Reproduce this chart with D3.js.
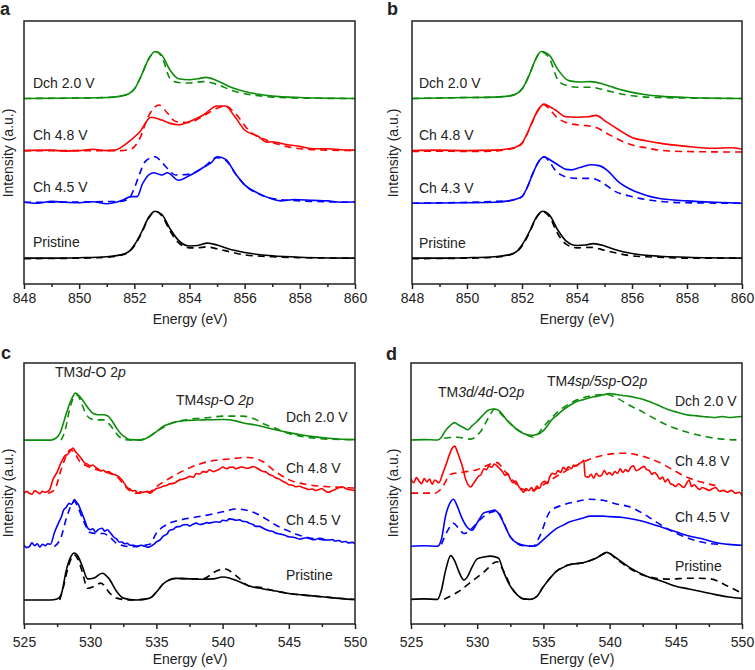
<!DOCTYPE html>
<html><head><meta charset="utf-8">
<script src="https://cdn.jsdelivr.net/npm/d3@7"></script>
<style>body{margin:0;background:#fff}text{font-family:"Liberation Sans",Arial,Helvetica,sans-serif;fill:#222}</style>
</head><body><svg id="chart" width="755" height="670"></svg>
<script>
// ---------- tick labels ----------
const ticksNi = [848, 850, 852, 854, 856, 858, 860];
const ticksO = [525, 530, 535, 540, 545, 550];
const colors = ["#000000", "#0000ff", "#ff0000", "#0c8c0c"];
const labelsA = ["Pristine", "Ch 4.5 V", "Ch 4.8 V", "Dch 2.0 V"];
const labelsB = ["Pristine", "Ch 4.3 V", "Ch 4.8 V", "Dch 2.0 V"];
const labelsC = ["Pristine", "Ch 4.5 V", "Ch 4.8 V", "Dch 2.0 V"];
const labelsD = ["Pristine", "Ch 4.5 V", "Ch 4.8 V", "Dch 2.0 V"];
const offsetsA = [0, 1.19, 2.29, 3.40];
const offsetsB = [0, 1.17, 2.29, 3.40];
const offsetsC = [0, 1.135, 2.27, 3.40];
const offsetsD = [0, 1.13, 2.26, 3.39];

// ---------- panel a ----------
const aBlackSolid = [[848,0],[849,0],[850,0.01],[851,0.03],[851.5,0.07],[851.8,0.14],[852.0,0.28],[852.3,0.6],[852.5,0.85],[852.75,1.0],[853.0,0.93],[853.3,0.62],[853.6,0.38],[854.0,0.26],[854.3,0.27],[854.65,0.32],[855.0,0.28],[855.4,0.2],[856,0.12],[857,0.05],[858,0.02],[860,0]];
const aBlackDash = [[848,-0.01],[850,0],[851,0.02],[851.5,0.06],[851.8,0.13],[852.0,0.26],[852.3,0.58],[852.5,0.84],[852.8,0.99],[853.0,0.9],[853.3,0.57],[853.6,0.33],[854.0,0.22],[854.3,0.22],[854.6,0.24],[855.0,0.2],[855.5,0.13],[856,0.07],[857,0.03],[858,0.01],[860,0]];
const aBlueSolid = [[848,0],[848.5,-0.02],[849,0.02],[849.5,0],[850,-0.01],[850.5,0.01],[851,-0.03],[851.5,0.03],[851.9,0.12],[852.1,0.12],[852.3,0.4],[852.7,0.63],[853.0,0.58],[853.2,0.63],[853.6,0.47],[854.0,0.57],[854.5,0.74],[854.8,0.85],[855.0,0.97],[855.3,0.92],[855.7,0.58],[856.0,0.37],[856.5,0.19],[857.0,0.07],[857.3,0.03],[857.8,0.06],[858.5,0.04],[859,0.03],[859.5,0],[860,0.01]];
const aBlueDash = [[848,0],[851.5,0.02],[851.8,0.08],[852.0,0.3],[852.2,0.62],[852.4,0.87],[852.75,0.97],[853.0,0.85],[853.2,0.72],[853.5,0.58],[854.0,0.6],[854.5,0.74],[855.0,0.95],[855.3,0.9],[855.7,0.58],[856.0,0.37],[856.5,0.18],[857,0.08],[858,0.03],[860,0]];
const aRedSolid = [[848,0],[849,0.01],[849.5,-0.01],[850,0],[850.5,0.03],[851,0],[851.3,0.01],[851.6,0.1],[851.8,0.19],[852.2,0.4],[852.6,0.71],[853.0,0.65],[853.3,0.58],[853.6,0.55],[854.0,0.62],[854.5,0.76],[855.0,0.95],[855.3,0.95],[855.6,0.76],[856.0,0.44],[856.5,0.3],[856.8,0.18],[857.0,0.19],[857.5,0.13],[858.0,0.09],[858.5,0.04],[859,0.04],[859.5,0.02],[860,0.01]];
const aRedDash = [[848,0],[851.5,0],[851.9,0.04],[852.2,0.26],[852.5,0.72],[852.9,0.97],[853.2,0.8],[853.5,0.62],[854.0,0.6],[854.5,0.74],[855.0,0.9],[855.3,0.95],[855.6,0.83],[856.2,0.4],[856.8,0.22],[857.5,0.09],[858.5,0.02],[860,0]];
const aGreenSolid = [[848,0],[850,0.01],[851,0.02],[851.5,0.05],[851.8,0.1],[852.0,0.2],[852.3,0.55],[852.5,0.82],[852.75,1.0],[853.0,0.92],[853.3,0.6],[853.6,0.42],[854.0,0.4],[854.3,0.42],[854.6,0.45],[855.0,0.38],[855.5,0.24],[856,0.15],[856.5,0.09],[857,0.05],[858,0.02],[860,0]];
const aGreenDash = [[848,0],[851,0.02],[851.5,0.05],[851.8,0.1],[852.0,0.2],[852.3,0.55],[852.5,0.82],[852.8,0.99],[853.0,0.88],[853.3,0.42],[853.6,0.34],[854.0,0.33],[854.5,0.36],[855.0,0.3],[855.5,0.18],[856,0.1],[856.5,0.06],[857,0.03],[858,0.01],[860,0]];

// ---------- panel b ----------
const bBlackSolid = [[848,0],[849,0],[850,0.01],[851,0.03],[851.5,0.07],[851.8,0.14],[852.0,0.28],[852.3,0.6],[852.5,0.85],[852.75,1.0],[853.0,0.92],[853.3,0.6],[853.6,0.37],[854.0,0.27],[854.3,0.28],[854.6,0.31],[855.0,0.26],[855.4,0.18],[856,0.1],[857,0.04],[858,0.02],[860,0]];
const bBlackDash = [[848,-0.01],[850,0],[851,0.02],[851.5,0.06],[851.8,0.13],[852.0,0.26],[852.3,0.58],[852.5,0.84],[852.75,0.99],[853.0,0.88],[853.3,0.52],[853.6,0.3],[854.0,0.22],[854.5,0.23],[855.0,0.17],[855.5,0.1],[856,0.05],[857,0.02],[858,0],[860,0]];
const bBlueSolid = [[848,0],[850,0.01],[851,0.02],[851.5,0.05],[851.8,0.09],[852.0,0.14],[852.2,0.35],[852.4,0.64],[852.6,0.88],[852.8,0.99],[853.0,0.93],[853.3,0.82],[853.6,0.72],[853.8,0.71],[854.1,0.76],[854.5,0.82],[854.8,0.8],[855.1,0.7],[855.5,0.46],[856,0.28],[856.5,0.17],[857,0.1],[858,0.05],[859,0.02],[860,0]];
const bBlueDash = [[848,0],[851.5,0.05],[851.8,0.09],[852.0,0.14],[852.2,0.35],[852.4,0.64],[852.6,0.88],[852.8,0.99],[853.0,0.88],[853.2,0.71],[853.6,0.56],[854.0,0.53],[854.5,0.53],[854.9,0.45],[855.3,0.28],[856,0.14],[856.5,0.08],[857,0.04],[858,0.01],[860,0]];
const bRedSolid = [[848,0],[849,0.01],[850,0],[851,0.01],[851.5,0.04],[851.8,0.08],[852.0,0.16],[852.2,0.38],[852.4,0.65],[852.6,0.88],[852.8,0.99],[853.0,0.94],[853.2,0.87],[853.6,0.72],[854.0,0.71],[854.4,0.72],[854.7,0.75],[855.0,0.64],[855.5,0.45],[856,0.28],[856.5,0.21],[857,0.16],[858,0.09],[859,0.05],[859.6,0.06],[860,0.03]];
const bRedDash = [[848,-0.02],[849,-0.01],[850,-0.02],[851,-0.01],[851.5,0.03],[851.8,0.07],[852.0,0.15],[852.2,0.37],[852.4,0.64],[852.6,0.87],[852.8,0.98],[853.0,0.88],[853.3,0.69],[853.6,0.6],[854.0,0.55],[854.6,0.51],[855.2,0.33],[855.6,0.21],[856,0.12],[856.5,0.06],[857,0.01],[858,-0.02],[860,-0.03]];
const bGreenSolid = [[848,0],[849,0.01],[850,0.02],[851,0.03],[851.5,0.05],[851.8,0.1],[852.0,0.2],[852.3,0.55],[852.5,0.84],[852.7,1.0],[853.0,0.92],[853.3,0.62],[853.7,0.38],[854.1,0.35],[854.5,0.36],[855,0.3],[855.5,0.2],[856,0.13],[856.5,0.08],[857,0.05],[858,0.02],[860,0]];
const bGreenDash = [[848,0],[850,0.02],[851,0.03],[851.5,0.05],[851.8,0.1],[852.0,0.2],[852.3,0.55],[852.5,0.84],[852.7,0.99],[853.0,0.85],[853.3,0.4],[853.6,0.28],[854.0,0.24],[854.5,0.24],[855,0.18],[855.5,0.11],[856,0.06],[856.5,0.03],[857,0.02],[858,0.01],[860,0]];

// ---------- panel c ----------
const cBlackSolid = [[525,0],[526,0],[527,0],[527.5,0.02],[527.8,0.11],[528.2,0.64],[528.5,0.9],[528.8,1.0],[529.1,0.92],[529.4,0.72],[529.8,0.45],[530.3,0.47],[530.9,0.57],[531.4,0.46],[532,0.18],[532.5,0.04],[533.5,0],[534.5,0.04],[535,0.17],[535.5,0.34],[536,0.43],[536.5,0.46],[537.5,0.45],[538.5,0.44],[539.3,0.45],[540,0.49],[540.5,0.47],[541,0.42],[542,0.3],[543,0.24],[544,0.19],[545,0.14],[546,0.11],[547.5,0.07],[549,0.03],[550,0.01]];
const cBlackDash = [[527.7,0],[528.0,0.3],[528.3,0.66],[528.8,0.96],[529.1,0.85],[529.4,0.6],[529.8,0.25],[530.3,0.29],[530.8,0.36],[531.5,0.14],[532,0.04],[533,0],[534.5,0.04],[535,0.17],[535.5,0.34],[536,0.43],[536.5,0.46],[537.5,0.45],[538.5,0.45],[539.5,0.61],[540.2,0.66],[541,0.52],[542,0.3],[543,0.26],[544,0.19],[545,0.14],[547.5,0.07],[550,0.01]];
const cBlueSolid = [[525,0.03],[525.2,-0.02],[525.4,0.0],[525.6,0.08],[525.8,0.02],[526,0.06],[526.2,-0.01],[526.4,0.05],[526.6,0.02],[526.8,0.06],[527,0.05],[527.3,0.3],[527.6,0.5],[527.8,0.62],[528,0.78],[528.2,0.84],[528.4,0.92],[528.6,0.9],[528.8,1.0],[529,0.93],[529.1,0.9],[529.3,0.76],[529.6,0.55],[529.8,0.4],[530,0.36],[530.2,0.38],[530.4,0.31],[530.6,0.36],[530.9,0.39],[531.1,0.33],[531.3,0.36],[531.5,0.3],[531.8,0.2],[532,0.16],[532.2,0.1],[532.4,0.1],[532.6,0.06],[532.8,0.07],[533.0,0.03],[533.3,0.03],[533.5,0],[533.8,0.03],[534,0.02],[534.3,-0.01],[534.5,0],[534.8,0.05],[535,0.1],[535.3,0.15],[535.5,0.22],[535.8,0.27],[536,0.35],[536.3,0.37],[536.5,0.42],[536.8,0.43],[537,0.46],[537.3,0.47],[537.5,0.44],[537.8,0.48],[538,0.5],[538.3,0.47],[538.5,0.48],[538.8,0.51],[539,0.5],[539.3,0.52],[539.5,0.53],[539.8,0.52],[540,0.56],[540.3,0.55],[540.5,0.59],[540.8,0.58],[541,0.56],[541.3,0.57],[541.5,0.54],[541.8,0.53],[542,0.5],[542.3,0.47],[542.5,0.43],[542.8,0.43],[543,0.4],[543.3,0.36],[543.5,0.34],[543.8,0.32],[544,0.29],[544.3,0.27],[544.5,0.26],[544.8,0.23],[545,0.21],[545.3,0.2],[545.5,0.19],[545.8,0.16],[546,0.17],[546.3,0.19],[546.5,0.18],[546.8,0.15],[547,0.15],[547.3,0.18],[547.5,0.17],[547.8,0.14],[548,0.14],[548.3,0.15],[548.5,0.12],[548.8,0.13],[549,0.1],[549.3,0.11],[549.5,0.08],[549.8,0.09],[550,0.06]];
const cBlueDash = [[527.3,0],[527.8,0.2],[528.2,0.6],[528.8,0.96],[529.1,0.82],[529.5,0.54],[530,0.3],[530.5,0.28],[531,0.28],[531.5,0.2],[532,0.07],[533,0],[534.5,0.05],[535,0.29],[535.5,0.42],[536,0.5],[537,0.58],[538,0.63],[539,0.68],[540,0.74],[541,0.8],[542,0.76],[542.5,0.71],[543.5,0.55],[544,0.46],[545,0.33],[545.5,0.27],[546.5,0.19],[547.5,0.15],[548,0.14]];
const cRedSolid = [[525,0],[525.2,0.04],[525.4,0.0],[525.6,-0.02],[525.8,0.05],[526,0.03],[526.2,-0.01],[526.4,0.04],[526.6,0.02],[526.9,0.06],[527.2,0.3],[527.5,0.45],[527.8,0.65],[528.1,0.8],[528.3,0.83],[528.5,0.9],[528.7,0.96],[528.9,0.88],[529,0.85],[529.3,0.75],[529.6,0.64],[529.8,0.62],[530,0.58],[530.2,0.6],[530.4,0.55],[530.6,0.52],[530.8,0.48],[531,0.49],[531.2,0.45],[531.4,0.46],[531.6,0.42],[531.8,0.4],[532,0.38],[532.2,0.34],[532.4,0.28],[532.6,0.2],[532.8,0.12],[533,0.09],[533.2,0.05],[533.4,0.06],[533.6,0],[533.8,0.03],[534,0.02],[534.3,0.04],[534.5,0],[534.8,0.06],[535,0.1],[535.3,0.12],[535.5,0.15],[535.8,0.17],[536,0.2],[536.3,0.21],[536.5,0.24],[536.8,0.29],[537,0.3],[537.3,0.33],[537.5,0.36],[537.8,0.34],[538,0.42],[538.3,0.41],[538.5,0.46],[538.8,0.45],[539,0.5],[539.3,0.46],[539.5,0.48],[539.8,0.52],[540,0.56],[540.3,0.52],[540.5,0.55],[540.8,0.56],[541,0.52],[541.3,0.55],[541.5,0.56],[541.8,0.53],[542,0.54],[542.3,0.57],[542.5,0.55],[542.8,0.5],[543,0.47],[543.3,0.45],[543.5,0.4],[543.8,0.37],[544,0.33],[544.3,0.3],[544.5,0.26],[544.8,0.22],[545,0.18],[545.3,0.17],[545.5,0.14],[545.8,0.15],[546,0.13],[546.3,0.1],[546.5,0.08],[546.8,0.09],[547,0.06],[547.3,0.08],[547.5,0.1],[547.8,0.04],[548,0.02],[548.3,0.06],[548.5,0.08],[548.8,0.12],[549,0.14],[549.3,0.1],[549.5,0.08],[549.8,0.07],[550,0.05]];
const cRedDash = [[526.8,0],[527.3,0.07],[527.8,0.5],[528.2,0.8],[528.5,0.93],[528.9,0.82],[529.2,0.68],[529.6,0.6],[530,0.55],[530.5,0.5],[531,0.46],[531.5,0.42],[532,0.36],[532.5,0.2],[533,0.05],[533.5,0],[534.5,0.03],[535,0.14],[536,0.32],[537.5,0.54],[539,0.68],[540.5,0.73],[542,0.76],[543,0.68],[544,0.46],[545,0.29],[546.5,0.18],[548,0.14],[550,0.11]];
const cGreenSolid = [[525,0],[526,0],[527,0],[527.4,0.04],[527.7,0.14],[528.2,0.57],[528.6,0.88],[528.9,1.0],[529.2,0.93],[529.5,0.82],[529.9,0.66],[530.2,0.57],[530.6,0.54],[531,0.54],[531.3,0.52],[531.6,0.43],[532,0.25],[532.3,0.14],[532.7,0.05],[533,0.01],[533.8,0],[534.5,0.08],[535,0.18],[535.5,0.29],[536,0.35],[536.5,0.39],[537.5,0.42],[538.5,0.43],[540,0.44],[541,0.41],[541.5,0.37],[542.5,0.32],[543,0.29],[544,0.22],[545,0.16],[546,0.11],[547,0.07],[548,0.04],[549,0.02],[550,0.01]];
const cGreenDash = [[527.8,0],[528.1,0.2],[528.4,0.6],[528.7,0.88],[529,0.96],[529.3,0.82],[529.6,0.6],[530,0.46],[530.5,0.43],[531,0.43],[531.5,0.32],[531.8,0.21],[532.2,0.07],[532.6,0.01],[533.5,0],[534.5,0.08],[535,0.18],[536,0.34],[537,0.42],[538,0.46],[539,0.48],[540,0.51],[541.5,0.51],[542.5,0.44],[543,0.36],[544,0.25],[545,0.14],[546,0.08],[547,0.04],[548,0.02],[550,0.01]];

// ---------- panel d ----------
const dBlackSolid = [[525,0],[526,0.01],[527,0],[527.3,0.2],[527.6,0.6],[528,0.93],[528.3,0.82],[528.6,0.6],[529,0.41],[529.3,0.5],[529.6,0.68],[530,0.86],[530.5,0.9],[531,0.92],[531.6,0.88],[532,0.58],[532.5,0.28],[533,0.1],[533.5,0.01],[534,0],[534.5,0.06],[535,0.27],[535.5,0.45],[536,0.6],[536.5,0.68],[537,0.74],[537.5,0.76],[538,0.78],[538.5,0.82],[539,0.88],[539.5,0.96],[539.8,1.0],[540.2,0.94],[540.7,0.84],[541.5,0.68],[542,0.6],[542.5,0.53],[543,0.47],[544,0.38],[545,0.28],[546,0.22],[547,0.16],[548,0.1],[549,0.05],[550,0.02]];
const dBlackDash = [[527.5,0],[528.5,0.15],[529.5,0.36],[530.5,0.58],[531.5,0.8],[532,0.6],[532.5,0.3],[533,0.1],[533.5,0.01],[534,0],[534.5,0.06],[535,0.27],[536,0.6],[537,0.74],[538,0.78],[539,0.88],[539.8,1.0],[540.5,0.86],[541.5,0.66],[542.5,0.52],[543.5,0.45],[544.5,0.43],[546,0.45],[547.5,0.44],[549,0.27],[550,0.13]];
const dBlueSolid = [[525,0],[526,0.01],[527,0],[527.3,0.15],[527.6,0.63],[528,0.95],[528.2,1.0],[528.5,0.85],[528.8,0.63],[529.2,0.42],[529.6,0.34],[530,0.5],[530.5,0.71],[531,0.75],[531.3,0.77],[531.7,0.66],[532,0.49],[532.5,0.2],[533,0.07],[533.5,0.02],[534.3,0],[535,0.14],[535.5,0.27],[536,0.38],[536.5,0.45],[537,0.52],[538,0.6],[538.5,0.64],[539.5,0.64],[540,0.63],[541,0.61],[541.5,0.59],[542.5,0.53],[543,0.49],[544,0.4],[545,0.31],[546,0.22],[547,0.16],[548,0.08],[549,0.04],[550,0.02]];
const dBlueDash = [[527.3,0.04],[527.8,0.35],[528.2,0.49],[528.6,0.38],[529,0.27],[529.6,0.38],[530.2,0.56],[531,0.72],[531.5,0.75],[532,0.5],[532.5,0.2],[533.5,0.01],[534.2,0],[534.7,0.2],[535.5,0.74],[536.5,0.88],[537.5,0.95],[538.5,1.0],[539.5,0.98],[540.5,0.9],[541.5,0.84],[542.5,0.7],[543.5,0.52],[544.5,0.35],[545.5,0.22],[546.5,0.12],[547.5,0.06],[548.5,0.04]];
const dRedSolid = [[525,0.3],[525.2,0.22],[525.4,0.33],[525.6,0.26],[525.8,0.2],[526,0.31],[526.2,0.24],[526.4,0.3],[526.6,0.19],[526.8,0.28],[527.1,0.22],[527.4,0.42],[527.7,0.65],[527.9,0.82],[528.1,0.95],[528.3,1.0],[528.5,0.88],[528.7,0.72],[528.9,0.55],[529.1,0.32],[529.3,0.18],[529.5,0.13],[529.7,0.2],[529.9,0.28],[530.1,0.36],[530.3,0.4],[530.5,0.52],[530.7,0.5],[530.9,0.58],[531.1,0.55],[531.3,0.62],[531.5,0.58],[531.7,0.52],[531.9,0.46],[532.1,0.38],[532.3,0.42],[532.5,0.3],[532.7,0.22],[532.9,0.26],[533.1,0.16],[533.3,0.08],[533.5,0.02],[533.7,0.1],[533.9,0.05],[534.1,0.12],[534.3,0.04],[534.5,0.15],[534.7,0.1],[534.9,0.22],[535.1,0.25],[535.3,0.2],[535.5,0.36],[535.7,0.42],[535.9,0.4],[536.1,0.48],[536.3,0.44],[536.5,0.55],[536.7,0.5],[536.9,0.56],[537.1,0.52],[537.3,0.6],[537.5,0.58],[537.7,0.63],[537.9,0.66],[538.05,0.7],[538.15,0.36],[538.4,0.34],[538.6,0.4],[538.8,0.32],[539,0.42],[539.2,0.36],[539.4,0.38],[539.6,0.48],[539.8,0.4],[540,0.44],[540.2,0.38],[540.4,0.46],[540.6,0.42],[540.8,0.52],[541,0.44],[541.2,0.5],[541.4,0.46],[541.6,0.55],[541.8,0.58],[542,0.48],[542.2,0.5],[542.4,0.54],[542.6,0.57],[542.8,0.5],[543,0.48],[543.2,0.4],[543.4,0.44],[543.6,0.38],[543.8,0.3],[544,0.34],[544.2,0.24],[544.4,0.3],[544.6,0.2],[544.8,0.18],[545,0.14],[545.2,0.2],[545.4,0.16],[545.6,0.12],[545.8,0.2],[546,0.28],[546.2,0.14],[546.4,0.18],[546.6,0.12],[546.8,0.08],[547,0.12],[547.2,0.1],[547.5,0.06],[547.8,0.1],[548,0.12],[548.3,0.04],[548.6,0.06],[548.9,0.02],[549.2,0.06],[549.5,0.0],[549.8,0.02],[550,-0.06]];
const dRedDash = [[525,0],[526.8,0],[527.3,0.1],[528,0.4],[529,0.45],[530,0.5],[531,0.62],[531.5,0.65],[532,0.5],[532.6,0.3],[533.3,0.1],[534,0.05],[535,0.18],[536,0.36],[537,0.52],[538,0.66],[539,0.77],[540,0.83],[541,0.85],[542,0.82],[543,0.74],[544,0.62],[545,0.46],[546,0.32],[547,0.23],[548,0.16]];
const dGreenSolid = [[525,0],[526,0.01],[527,0],[527.3,0.06],[527.6,0.2],[528,0.32],[528.3,0.37],[528.6,0.32],[529,0.26],[529.3,0.22],[529.6,0.3],[530,0.4],[530.4,0.52],[530.8,0.63],[531.2,0.66],[531.5,0.65],[531.9,0.55],[532.3,0.4],[532.7,0.3],[533,0.22],[533.5,0.14],[534,0.1],[534.5,0.12],[535,0.2],[535.3,0.3],[535.6,0.42],[536,0.52],[536.5,0.64],[537,0.74],[537.5,0.82],[538,0.86],[538.5,0.9],[539,0.93],[539.5,0.96],[540,0.99],[540.5,0.97],[541,0.95],[541.5,0.93],[542,0.9],[542.5,0.87],[543,0.82],[543.5,0.76],[544,0.7],[544.5,0.64],[545,0.6],[545.5,0.56],[546,0.53],[546.5,0.52],[547,0.5],[547.5,0.49],[548,0.48],[548.5,0.5],[549,0.48],[549.5,0.49],[550,0.5]];
const dGreenDash = [[527.5,0.04],[528.5,0.06],[529.5,0.02],[530.3,0.2],[531,0.55],[531.3,0.66],[532,0.5],[532.7,0.3],[533.5,0.14],[534.3,0.06],[535,0.28],[536,0.58],[537,0.78],[538,0.9],[539,0.96],[539.8,0.97],[540.5,0.9],[541.5,0.74],[542.5,0.6],[543.5,0.44],[544.5,0.3],[545.5,0.2],[546.5,0.12],[547.5,0.06],[548.5,0.02],[550,0]];

// ---------- layout ----------
const panels = [
  {id:"a", box:[24,21,355,284], xd:[848,860], ticks:ticksNi, minor:1, yd:[-0.55,5.05], offsets:offsetsA, labels:labelsA,
   solid:[aBlackSolid,aBlueSolid,aRedSolid,aGreenSolid], dash:[aBlackDash,aBlueDash,aRedDash,aGreenDash],
   letter:[0,15], lab:{x:33, y:[247,192,140,88]}, ylab:[13,153], xlab:[190,324], tickY:303},
  {id:"b", box:[412,21,742,284], xd:[848,860], ticks:ticksNi, minor:1, yd:[-0.55,5.05], offsets:offsetsB, labels:labelsB,
   solid:[bBlackSolid,bBlueSolid,bRedSolid,bGreenSolid], dash:[bBlackDash,bBlueDash,bRedDash,bGreenDash],
   letter:[387,15], lab:{x:419, y:[248,193,140,88]}, ylab:[398,153], xlab:[577,324], tickY:303},
  {id:"c", box:[24,363,355,624], xd:[525,550], ticks:ticksO, minor:2.5, yd:[-0.51,5.04], offsets:offsetsC, labels:labelsC,
   solid:[cBlackSolid,cBlueSolid,cRedSolid,cGreenSolid], dash:[cBlackDash,cBlueDash,cRedDash,cGreenDash],
   letter:[1,359], lab:{x:286, y:[580,525,473,422]}, ylab:[13,493], xlab:[190,664], tickY:647},
  {id:"d", box:[411,363,742,624], xd:[525,550], ticks:ticksO, minor:2.5, yd:[-0.525,5.03], offsets:offsetsD, labels:labelsD,
   solid:[dBlackSolid,dBlueSolid,dRedSolid,dGreenSolid], dash:[dBlackDash,dBlueDash,dRedDash,dGreenDash],
   letter:[386,360], lab:{x:675, y:[571,522,466,406]}, ylab:[398,493], xlab:[577,664], tickY:647}
];

const svg = d3.select("#chart");
svg.append("rect").attr("width",755).attr("height",670).attr("fill","#fff");

panels.forEach(p => {
  const [x0,y0,x1,y1] = p.box;
  const x = d3.scaleLinear().domain(p.xd).range([x0,x1]);
  const y = d3.scaleLinear().domain(p.yd).range([y1,y0]);
  const g = svg.append("g");
  const clipId = "clip" + p.id;
  g.append("clipPath").attr("id",clipId).append("rect").attr("x",x0).attr("y",y0).attr("width",x1-x0).attr("height",y1-y0);
  const line = off => d3.line().x(d=>x(d[0])).y(d=>y(d[1]+off)).curve(d3.curveMonotoneX);
  const plot = g.append("g").attr("clip-path",`url(#${clipId})`);
  p.solid.forEach((s,i) => {
    plot.append("path").datum(p.dash[i]).attr("d", line(p.offsets[i])).attr("fill","none")
      .attr("stroke",colors[i]).attr("stroke-width",1.6).attr("stroke-dasharray","7,5");
    plot.append("path").datum(s).attr("d", line(p.offsets[i])).attr("fill","none")
      .attr("stroke",colors[i]).attr("stroke-width",1.6).attr("stroke-linejoin","round");
  });
  // frame
  g.append("rect").attr("x",x0).attr("y",y0).attr("width",x1-x0).attr("height",y1-y0)
    .attr("fill","none").attr("stroke","#222").attr("stroke-width",1.5);
  // x axis
  const minorTicks = d3.range(p.xd[0], p.xd[1]+0.001, p.minor).filter(v => !p.ticks.includes(v));
  const axMinor = d3.axisBottom(x).tickValues(minorTicks).tickSize(3).tickFormat("");
  const axMajor = d3.axisBottom(x).tickValues(p.ticks).tickSize(5).tickPadding(6).tickFormat(d3.format("d"));
  const gm = g.append("g").attr("transform",`translate(0,${y1})`).call(axMinor);
  const gM = g.append("g").attr("transform",`translate(0,${y1})`).call(axMajor);
  [gm,gM].forEach(a => { a.select(".domain").remove(); a.selectAll("line").attr("stroke","#222").attr("stroke-width",1.5); });
  gM.selectAll("text").attr("y", null).attr("dy", null)
    .attr("transform",`translate(0,${p.tickY - y1})`).style("font-size","14px").style("font-family",'"Liberation Sans",Arial,sans-serif').attr("fill","#222");
  // axis titles
  g.append("text").attr("x",p.xlab[0]).attr("y",p.xlab[1]).attr("text-anchor","middle").style("font-size","14px").text("Energy (eV)");
  g.append("text").attr("transform",`translate(${p.ylab[0]},${p.ylab[1]}) rotate(-90)`).attr("text-anchor","middle").style("font-size","14px").text("Intensity (a.u.)");
  // panel letter
  g.append("text").attr("x",p.letter[0]).attr("y",p.letter[1]).style("font-size","18px").style("font-weight","bold").text(p.id);
  // series labels
  p.labels.forEach((t,i) => {
    g.append("text").attr("x",p.lab.x).attr("y",p.lab.y[i]).style("font-size","14px").text(t);
  });
});

// peak annotations
const annC = svg.append("g").style("font-size","14px");
const t1 = annC.append("text").attr("x",55).attr("y",377);
t1.append("tspan").text("TM3");
t1.append("tspan").style("font-style","italic").text("d");
t1.append("tspan").text("-O 2");
t1.append("tspan").style("font-style","italic").text("p");
const t2 = annC.append("text").attr("x",176).attr("y",405);
t2.append("tspan").text("TM4");
t2.append("tspan").style("font-style","italic").text("sp");
t2.append("tspan").text("-O ");
t2.append("tspan").style("font-style","italic").text("2p");
const t3 = annC.append("text").attr("x",438).attr("y",397);
t3.append("tspan").text("TM");
t3.append("tspan").style("font-style","italic").text("3d/4d");
t3.append("tspan").text("-O2");
t3.append("tspan").style("font-style","italic").text("p");
const t4 = annC.append("text").attr("x",547).attr("y",386);
t4.append("tspan").text("TM");
t4.append("tspan").style("font-style","italic").text("4sp/5sp");
t4.append("tspan").text("-O2");
t4.append("tspan").style("font-style","italic").text("p");
</script></body></html>
